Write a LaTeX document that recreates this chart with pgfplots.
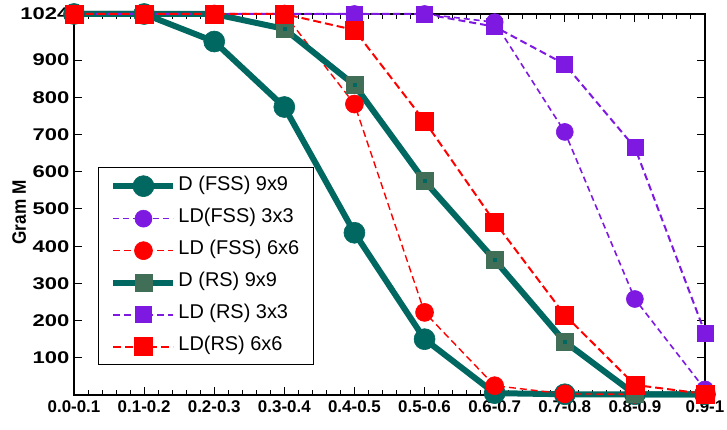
\documentclass[border=0pt]{standalone}
\usepackage{pgfplots}
\pgfplotsset{compat=1.18}
\usepackage{graphicx}
\usepackage{fontspec}
\setmainfont{Liberation Sans}
\definecolor{teal1}{RGB}{0,104,96}
\definecolor{sqg}{RGB}{64,110,86}
\definecolor{purp}{RGB}{125,25,225}
\begin{document}
\begin{tikzpicture}
\useasboundingbox (-74bp,-35bp) rectangle (653bp,395bp);
\begin{axis}[
  at={(0,0)}, anchor=south west,
  scale only axis, width=631bp, height=381bp,
  xmin=0, xmax=9, ymin=0, ymax=1024,
  xtick={0,...,9},
  xticklabels={0.0-0.1,0.1-0.2,0.2-0.3,0.3-0.4,0.4-0.5,0.5-0.6,0.6-0.7,0.7-0.8,0.8-0.9,0.9-1},
  minor x tick num=4,
  ytick={100,200,300,400,500,600,700,800,900,1024},
  yticklabel={\scalebox{1.3}[1]{\pgfmathprintnumber[1000 sep={},assume math mode=true]{\tick}}},
  tick align=inside,
  major tick length=8bp, minor tick length=5bp,
  axis line style={line width=1.5bp},
  every tick/.style={black, line width=1bp},
  tick label style={font=\fontsize{17}{17}\selectfont\bfseries},
  xticklabel style={yshift=-2bp},
  yticklabel style={xshift=-1bp},
  every axis y label/.style={at={(axis description cs:-0.087,0.479)}, anchor=center, rotate=90},
  ylabel={\scalebox{1.15}[1.3]{\fontsize{15}{15}\selectfont\bfseries Gram M}},
  clip=false,
  legend cell align=left,
  legend style={at={(rel axis cs:0.038,0.598)}, anchor=north west, draw=black, line width=1bp,
    font=\fontsize{20}{22}\selectfont, inner xsep=12bp, inner ysep=8bp, row sep=12bp,
    nodes={inner sep=2bp, text height=12bp, text depth=4bp}},
  legend image code/.code={\draw[mark repeat=2,mark phase=2] plot coordinates {(0bp,0bp)(30bp,0bp)(60bp,0bp)};},
]
\addplot[teal1, line width=6bp, mark=*, mark size=10.5bp, mark options={solid, fill=teal1, draw=teal1, line width=0.6bp}]
  coordinates {(0,1024)(1,1024)(2,950)(3,774)(4,436)(5,150)(6,5)(7,2)(8,2)(9,2)};
\addlegendentry{D (FSS) 9x9}
\addplot[purp, line width=1.6bp, dash pattern=on 6bp off 4bp, mark=*, mark size=8.5bp, mark options={solid, fill=purp, line width=0.6bp}]
  coordinates {(0,1024)(1,1024)(2,1024)(3,1024)(4,1024)(5,1024)(6,1002)(7,707)(8,258)(9,15)};
\addlegendentry{LD(FSS) 3x3}
\addplot[red, line width=1.4bp, dash pattern=on 7bp off 4bp, mark=*, mark size=9bp, mark options={solid, fill=red, line width=0.6bp}]
  coordinates {(0,1024)(1,1024)(2,1024)(3,1024)(4,782)(5,222)(6,25)(7,3)(8,2)(9,2)};
\addlegendentry{LD (FSS) 6x6}
\addplot[teal1, line width=6bp, mark=square*, mark size=8.5bp, mark options={solid, fill=sqg, draw=sqg, line width=0.6bp}]
  coordinates {(0,1024)(1,1024)(2,1024)(3,984)(4,833)(5,575)(6,363)(7,143)(8,2)(9,2)};
\addlegendentry{D (RS) 9x9}
\addplot[teal1, only marks, mark=square*, mark size=1.5bp, mark options={line width=0.4bp}, forget plot]
  coordinates {(3,984)(4,833)(5,575)(6,363)(7,143)};
\addplot[purp, line width=2bp, dash pattern=on 7bp off 4bp, mark=square*, mark size=8bp, mark options={solid, fill=purp, line width=0.6bp}]
  coordinates {(0,1024)(1,1024)(2,1024)(3,1024)(4,1024)(5,1024)(6,990)(7,889)(8,665)(9,167)};
\addlegendentry{LD (RS) 3x3}
\addplot[red, line width=2bp, dash pattern=on 8bp off 4bp, mark=square*, mark size=9bp, mark options={solid, fill=red, line width=0.6bp}]
  coordinates {(0,1024)(1,1024)(2,1024)(3,1024)(4,981)(5,736)(6,465)(7,215)(8,27)(9,3)};
\addlegendentry{LD(RS) 6x6}
\end{axis}
\end{tikzpicture}
\end{document}
